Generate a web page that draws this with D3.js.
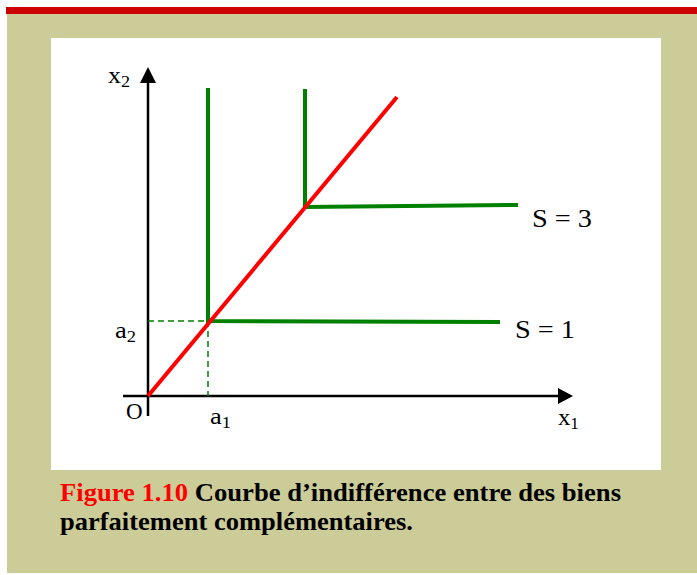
<!DOCTYPE html>
<html>
<head>
<meta charset="utf-8">
<script src="https://cdn.jsdelivr.net/npm/d3@7"></script>
<style>
  body { margin: 0; background: #fff; }
  text { font-family: "Liberation Serif", "Times New Roman", serif; }
</style>
</head>
<body>
<svg id="fig" width="697" height="575"></svg>
<script>
// values in chart units (origin O = 0,0)
const curveS1 = [[6, 30.8], [6, 7.5], [35.2, 7.4]];
const curveS3 = [[15.7, 30.7], [15.7, 18.9], [37, 19.1]];
const rayPoints = [[0, 0], [24.9, 29.9]];
const a1 = 6, a2 = 7.5;
const curveLabels = [
  { text: "S = 1", at: [36.7, 5.8] },
  { text: "S = 3", at: [38.4, 16.9] }
];

const svg = d3.select("#fig");

// frame
svg.append("rect").attr("x", 7).attr("y", 13).attr("width", 690).attr("height", 560).attr("fill", "#cccc99");
svg.append("rect").attr("x", 6).attr("y", 7).attr("width", 691).attr("height", 7).attr("fill", "#cc0000");
svg.append("rect").attr("x", 51).attr("y", 38).attr("width", 610).attr("height", 432).attr("fill", "#fff");

const x = d3.scaleLinear().domain([0, 42.5]).range([148, 573]);
const y = d3.scaleLinear().domain([0, 32.9]).range([396, 67]);
const line = d3.line().x(d => x(d[0])).y(d => y(d[1]));

const g = svg.append("g");

// axes
g.append("line").attr("x1", x(-2.5)).attr("x2", x(41)).attr("y1", y(0)).attr("y2", y(0))
  .attr("stroke", "#000").attr("stroke-width", 2.5);
g.append("line").attr("x1", x(0)).attr("x2", x(0)).attr("y1", y(-2)).attr("y2", y(31.5))
  .attr("stroke", "#000").attr("stroke-width", 2.5);
g.append("path")
  .attr("d", `M${x(42.5)},${y(0)} L${x(41)},${y(0) - 8} L${x(41)},${y(0) + 8} Z`)
  .attr("fill", "#000");
g.append("path")
  .attr("d", `M${x(0)},${y(32.9)} L${x(0) - 8},${y(31.3)} L${x(0) + 8},${y(31.3)} Z`)
  .attr("fill", "#000");

// dashed guides
g.append("path").attr("d", line([[0, a2], [a1, a2], [a1, 0]]))
  .attr("fill", "none").attr("stroke", "#008000").attr("stroke-width", 1.5)
  .attr("stroke-dasharray", "6,4");

// indifference curves
[curveS1, curveS3].forEach(c => {
  g.append("path").attr("d", line(c))
    .attr("fill", "none").attr("stroke", "#008000").attr("stroke-width", 4)
    .attr("stroke-linejoin", "miter");
});

// ray
g.append("path").attr("d", line(rayPoints))
  .attr("fill", "none").attr("stroke", "#ff0000").attr("stroke-width", 4);

// labels with subscript
function label(px, py, main, sub, size, w) {
  const t = g.append("text").attr("x", px).attr("y", py).attr("font-size", size)
    .attr("textLength", w).attr("lengthAdjust", "spacingAndGlyphs");
  t.append("tspan").text(main);
  if (sub) t.append("tspan").attr("font-size", size * 0.7).attr("dy", 4).text(sub);
}
label(108, 83, "x", "2", 23, 22);
label(115, 338, "a", "2", 23, 21);
label(210, 424, "a", "1", 23, 21);
label(558, 425, "x", "1", 23, 21);
g.append("text").attr("x", 126).attr("y", 419).attr("font-size", 23).text("O");

curveLabels.forEach(l => {
  g.append("text").attr("x", x(l.at[0])).attr("y", y(l.at[1]))
    .attr("font-size", 26).attr("textLength", 60).attr("lengthAdjust", "spacingAndGlyphs")
    .text(l.text);
});

// caption
const cap1 = svg.append("text").attr("x", 60).attr("y", 501)
  .attr("font-size", 26).attr("font-weight", "bold")
  .attr("textLength", 561).attr("lengthAdjust", "spacingAndGlyphs");
cap1.append("tspan").attr("fill", "#ff0000").text("Figure 1.10 ");
cap1.append("tspan").attr("fill", "#000").text("Courbe d\u2019indifférence entre des biens");
svg.append("text").attr("x", 60).attr("y", 530)
  .attr("font-size", 26).attr("font-weight", "bold")
  .attr("textLength", 353).attr("lengthAdjust", "spacingAndGlyphs")
  .text("parfaitement complémentaires.");
</script>
</body>
</html>
